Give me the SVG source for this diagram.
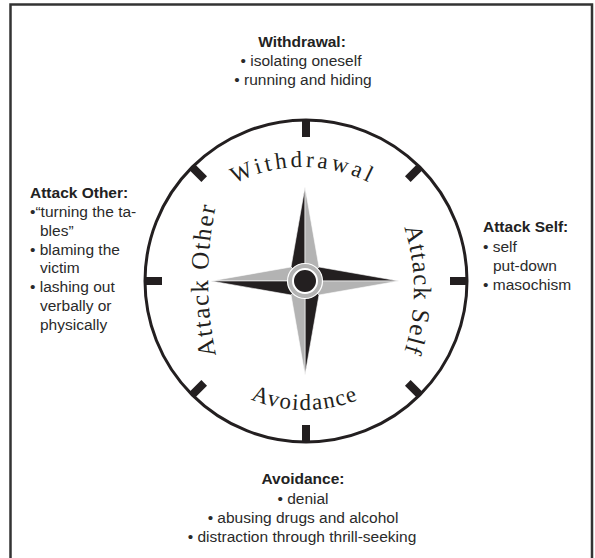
<svg xmlns="http://www.w3.org/2000/svg" width="595" height="558" viewBox="0 0 595 558">
  <defs>
    <style>
      .frame { fill: none; stroke: #333; stroke-width: 2.5; }
      .dial { fill: none; stroke: #231f20; stroke-width: 3; }
      .tick { stroke: #231f20; stroke-width: 8; stroke-linecap: butt; }
      .blk { fill: #231f20; stroke: #fff; stroke-width: 0.6; stroke-linejoin: round; }
      .gry { fill: #b3b3b3; stroke: #fff; stroke-width: 0.6; stroke-linejoin: round; }
      .arc { font-family: "Liberation Serif", "Times New Roman", serif; fill: #231f20; }
      .ttl { font-family: "Liberation Sans", Arial, sans-serif; font-size: 15.5px; font-weight: bold; fill: #222; }
      .txt { font-family: "Liberation Sans", Arial, sans-serif; font-size: 15.5px; fill: #2a2a2a; }
      .mid { text-anchor: middle; }
    </style>
    <path id="pW" d="M155,315 A148,148 0 0 1 451,315"/>
    <path id="pA" d="M160,265 A145,145 0 0 0 450,265"/>
    <path id="pO" d="M229.2,400 A350,350 0 0 1 229.2,160"/>
    <path id="pS" d="M374,170 A200,200 0 0 1 374,410"/>
  </defs>

  <rect width="595" height="558" fill="#fff"/>

  <g id="frame">
    <path class="frame" d="M10.5,560 V4.5 H592 V560"/>
  </g>

  <g id="dial">
    <circle class="dial" cx="306" cy="281" r="161"/>
    <line class="tick" x1="306" y1="120" x2="306" y2="137"/>
    <line class="tick" x1="306" y1="442" x2="306" y2="425"/>
    <line class="tick" x1="145" y1="281" x2="162" y2="281"/>
    <line class="tick" x1="467" y1="281" x2="450" y2="281"/>
    <line class="tick" x1="419.8" y1="167.2" x2="407.8" y2="179.2"/>
    <line class="tick" x1="192.2" y1="167.2" x2="204.2" y2="179.2"/>
    <line class="tick" x1="419.8" y1="394.8" x2="407.8" y2="382.8"/>
    <line class="tick" x1="192.2" y1="394.8" x2="204.2" y2="382.8"/>
  </g>

  <g id="compass">
    <polygon class="blk" points="305,187 291,267 305,281"/>
    <polygon class="gry" points="305,187 319,267 305,281"/>
    <polygon class="blk" points="399,281 319,267 305,281"/>
    <polygon class="gry" points="399,281 319,295 305,281"/>
    <polygon class="blk" points="305,375 319,295 305,281"/>
    <polygon class="gry" points="305,375 291,295 305,281"/>
    <polygon class="gry" points="211,281 291,267 305,281"/>
    <polygon class="blk" points="211,281 291,295 305,281"/>
    <circle cx="305" cy="281" r="17.5" fill="#b3b3b3" stroke="#fff" stroke-width="1.2"/>
    <circle cx="305" cy="281" r="12" fill="#231f20" stroke="#fff" stroke-width="2"/>
  </g>

  <g id="dial-labels">
    <text class="arc" font-size="23" letter-spacing="3.5"><textPath href="#pW" startOffset="50%" text-anchor="middle">Withdrawal</textPath></text>
    <text class="arc" font-size="23" letter-spacing="1.5"><textPath href="#pA" startOffset="50%" text-anchor="middle">Avoidance</textPath></text>
    <text class="arc" font-size="25" letter-spacing="1.8"><textPath href="#pO" startOffset="50%" text-anchor="middle">Attack Other</textPath></text>
    <text class="arc" font-size="25" letter-spacing="1.3"><textPath href="#pS" startOffset="50%" text-anchor="middle">Attack Self</textPath></text>
  </g>

  <g id="withdrawal">
    <text class="ttl mid" x="302" y="47">Withdrawal:</text>
    <text class="txt mid" x="301" y="66">•  isolating oneself</text>
    <text class="txt mid" x="303" y="85">•  running and hiding</text>
  </g>

  <g id="attack-other">
    <text class="ttl" x="30" y="198">Attack Other:</text>
    <text class="txt" x="30" y="217">•“turning the ta-</text>
    <text class="txt" x="40" y="236">bles”</text>
    <text class="txt" x="30" y="255">• blaming the</text>
    <text class="txt" x="40" y="273">victim</text>
    <text class="txt" x="30" y="292">• lashing out</text>
    <text class="txt" x="40" y="311">verbally or</text>
    <text class="txt" x="40" y="330">physically</text>
  </g>

  <g id="attack-self">
    <text class="ttl" x="483" y="232">Attack Self:</text>
    <text class="txt" x="483" y="252">• self</text>
    <text class="txt" x="493" y="271">put-down</text>
    <text class="txt" x="483" y="290">• masochism</text>
  </g>

  <g id="avoidance">
    <text class="ttl mid" x="303" y="484">Avoidance:</text>
    <text class="txt mid" x="303" y="504">•  denial</text>
    <text class="txt mid" x="303" y="523">•  abusing drugs and alcohol</text>
    <text class="txt mid" x="302" y="542">•  distraction through thrill-seeking</text>
  </g>

  <g id="connectors"/>
</svg>
